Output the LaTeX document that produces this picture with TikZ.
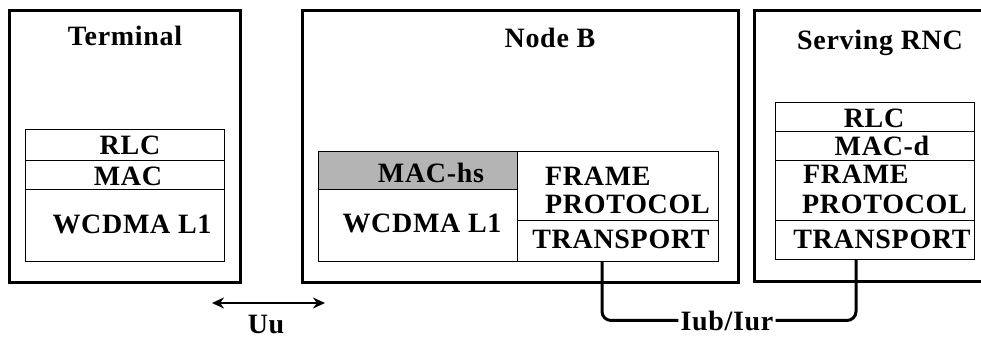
\documentclass[tikz,border=0pt]{standalone}
\usepackage{fontspec}
\setmainfont{Liberation Serif}[LetterSpace=2.5]
\usetikzlibrary{arrows.meta}
\begin{document}
\begin{tikzpicture}[x=1pt,y=-1pt,
  outer/.style={line width=3pt},
  layer/.style={draw,line width=1.3pt,anchor=north west,inner sep=0pt},
  lbl/.style={anchor=base,inner sep=0pt,font=\fontsize{28}{30}\selectfont\bfseries},
  lbll/.style={anchor=base west,inner sep=0pt,font=\fontsize{28}{30}\selectfont\bfseries},
  iubline/.style={line width=3pt,rounded corners=9pt},
  uuarrow/.style={line width=2pt,{Stealth[length=12pt,width=11pt]}-{Stealth[length=12pt,width=11pt]}}]
\useasboundingbox (0,0) rectangle (981,338);
% Terminal
\draw[outer] (9,10) rectangle (240,282);
\node[lbl] (term) at (125,45) {Terminal};
\node[layer,minimum width=199pt,minimum height=31pt] (tRLC) at (25,129) {};
\node[layer,minimum width=199pt,minimum height=29pt] (tMAC) at (25,160) {};
\node[layer,minimum width=199pt,minimum height=72pt] (tL1) at (25,189) {};
\node[lbl] (tRLCt) at (130,154) {RLC};
\node[lbl] (tMACt) at (128,185) {MAC};
\node[lbl] (tL1t) at (132,233) {WCDMA L1};
% Node B
\draw[outer] (302,10) rectangle (738,282);
\node[lbl] (nodeb) at (550,47) {Node B};
\node[layer,fill={rgb,255:red,180;green,180;blue,180},minimum width=199pt,minimum height=38pt] (nbMAC) at (318,151) {};
\node[layer,minimum width=199pt,minimum height=72pt] (nbL1) at (318,189) {};
\node[layer,minimum width=201pt,minimum height=69pt] (nbFP) at (517,151) {};
\node[layer,minimum width=201pt,minimum height=41pt] (nbT) at (517,220) {};
\node[lbl] (nbMACt) at (431,182) {MAC-hs};
\node[lbl] (nbL1t) at (422,232) {WCDMA L1};
\node[lbll] (nbFPt1) at (545,185) {FRAME};
\node[lbll] (nbFPt2) at (545,213) {PROTOCOL};
\node[lbl] (nbTt) at (621,248) {TRANSPORT};
% Serving RNC
\draw[outer] (990,10) -- (754,10) -- (754,281) -- (990,281);
\node[lbl] (rnc) at (880,49) {Serving RNC};
\node[layer,minimum width=199pt,minimum height=29pt] (rRLC) at (775,102) {};
\node[layer,minimum width=199pt,minimum height=29pt] (rMAC) at (775,131) {};
\node[layer,minimum width=199pt,minimum height=60pt] (rFP) at (775,160) {};
\node[layer,minimum width=199pt,minimum height=39pt] (rT) at (775,220) {};
\node[lbl] (rRLCt) at (874,127) {RLC};
\node[lbl] (rMACt) at (882,155) {MAC-d};
\node[lbll] (rFPt1) at (803,183) {FRAME};
\node[lbll] (rFPt2) at (802,213) {PROTOCOL};
\node[lbl] (rTt) at (882,248) {TRANSPORT};
% Iub/Iur
\node[lbl,fill=white,inner xsep=2pt] (iub) at (727,330) {Iub/Iur};
\coordinate (b1) at (602,261);
\coordinate (b2) at (856,259);
\draw[iubline] (b1) |- (iub.west);
\draw[iubline] (iub.east) -| (b2);
% Uu
\coordinate (u1) at (212,303);
\coordinate (u2) at (325,303);
\draw[uuarrow] (u1) -- (u2);
\node[lbl] (uu) at (266,333) {Uu};
\end{tikzpicture}
\end{document}
